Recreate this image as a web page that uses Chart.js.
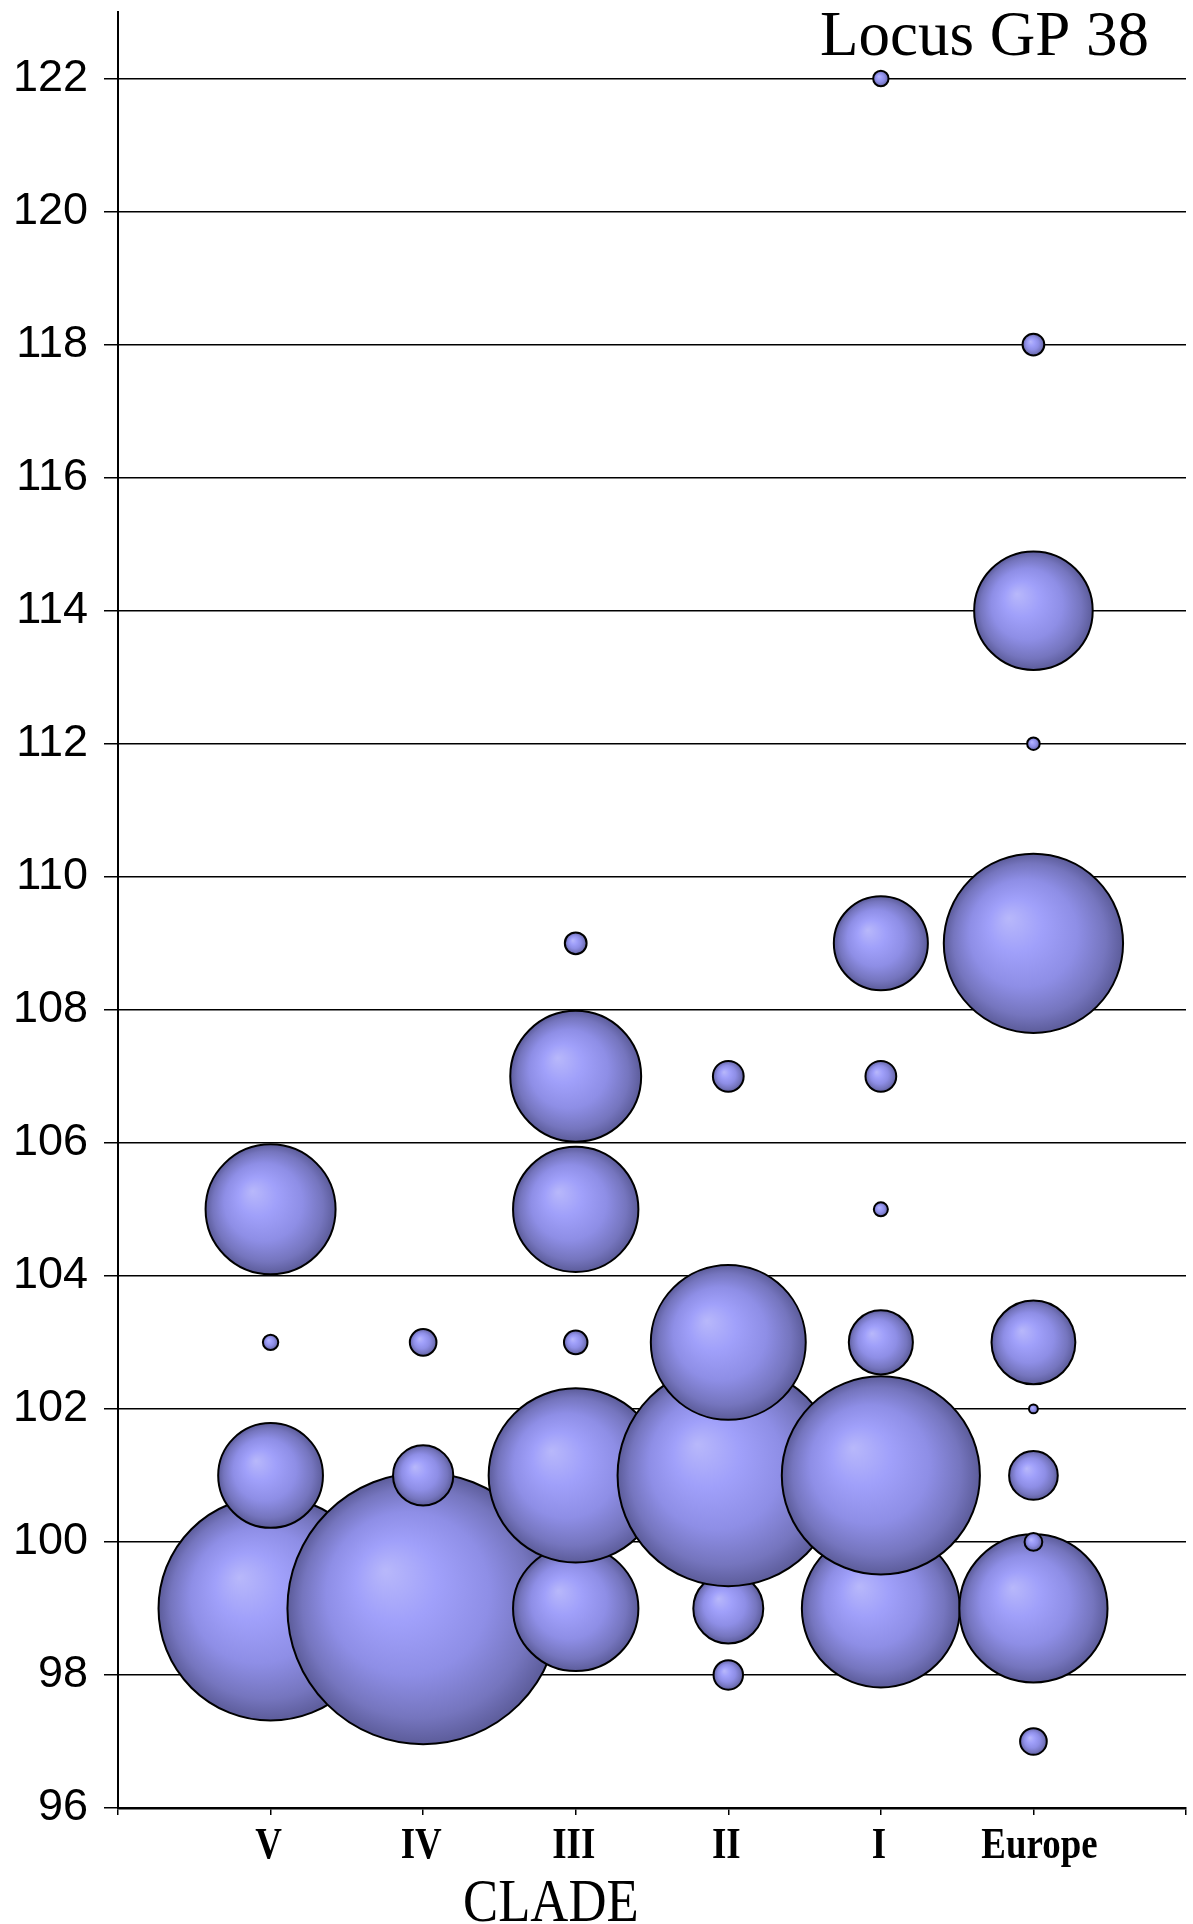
<!DOCTYPE html>
<html>
<head>
<meta charset="utf-8">
<script src="https://cdn.jsdelivr.net/npm/chart.js@4"></script>
<style>
  html, body { margin: 0; padding: 0; background: #fff; }
  #wrap { width: 1193px; height: 1924px; position: relative; }
</style>
</head>
<body>
<div id="wrap"><canvas id="chart"></canvas></div>
<script>
// clades on the x axis (positions 1..6)
const clades = ["V", "IV", "III", "II", "I", "Europe"];

// allele sizes found in each clade
const alleleSizes = [
  [99, 101, 103, 105],
  [99, 101, 103],
  [99, 101, 103, 105, 107, 109],
  [98, 99, 101, 103, 107],
  [99, 101, 103, 105, 107, 109, 122],
  [97, 99, 100, 101, 102, 103, 109, 112, 114, 118]
];

// allele frequency within each clade (bubble area)
const alleleFreqs = [
  [0.636, 0.139, 0.003, 0.214],
  [0.933, 0.046, 0.009],
  [0.199, 0.384, 0.007, 0.199, 0.217, 0.006],
  [0.011, 0.062, 0.621, 0.304, 0.012],
  [0.316, 0.497, 0.052, 0.0025, 0.012, 0.112, 0.003],
  [0.009, 0.278, 0.004, 0.030, 0.001, 0.089, 0.407, 0.002, 0.178, 0.006]
];

const yMin = 96, yMax = 123, yStep = 2;
const chartTitle = "Locus GP 38";
const xTitle = "CLADE";

// radius in px of a bubble with frequency 1
const FULL_R = 140.5;
const radiusOf = (f) => FULL_R * Math.sqrt(f);

// one point per allele, drawn smallest allele first, then left to right
const points = [];
clades.forEach((c, i) => {
  alleleSizes[i].forEach((size, j) => {
    points.push({ x: i + 1, y: size, f: alleleFreqs[i][j] });
  });
});
points.sort((a, b) => (a.y - b.y) || (a.x - b.x));

const serif = "'Liberation Serif', 'Times New Roman', serif";
const sans = "'Liberation Sans', Arial, sans-serif";

function bubbleFill(ctx) {
  const raw = ctx.raw;
  const chart = ctx.chart;
  if (!raw || !chart.scales.x || !chart.scales.y) return "#9999ee";
  const cx = chart.scales.x.getPixelForValue(raw.x);
  const cy = chart.scales.y.getPixelForValue(raw.y);
  const r = radiusOf(raw.f);
  if (!isFinite(cx) || !isFinite(cy) || !isFinite(r) || r <= 0) return "#9999ee";
  const g = chart.ctx.createRadialGradient(cx - r * 0.28, cy - r * 0.28, 0, cx, cy, r);
  g.addColorStop(0, "#b8b8fa");
  g.addColorStop(0.3, "#a0a0fa");
  g.addColorStop(0.6, "#8e8ee6");
  g.addColorStop(0.85, "#7575be");
  g.addColorStop(1, "#5c5c9a");
  return g;
}

// text that the reference draws condensed, plus the corner title
const textPlugin = {
  id: "texts",
  afterDraw(chart) {
    const { ctx, chartArea, scales } = chart;
    ctx.save();
    ctx.fillStyle = "#000";
    ctx.textBaseline = "alphabetic";

    ctx.font = "bold 45px " + serif;
    ctx.textAlign = "center";
    clades.forEach((c, i) => {
      const x = scales.x.getPixelForValue(i + 1);
      ctx.save();
      ctx.translate(x + (c.length > 3 ? 6 : -2), chartArea.bottom + 50);
      ctx.scale(0.82, 1);
      ctx.fillText(c, 0, 0);
      ctx.restore();
    });

    ctx.font = "62px " + serif;
    ctx.textAlign = "left";
    ctx.save();
    ctx.translate(chartArea.left + 345, chartArea.bottom + 113);
    ctx.scale(0.85, 1);
    ctx.fillText(xTitle, 0, 0);
    ctx.restore();

    ctx.font = "63px " + serif;
    ctx.textAlign = "left";
    ctx.fillText(chartTitle, 820, 55);
    ctx.restore();
  }
};

new Chart(document.getElementById("chart"), {
  type: "bubble",
  data: {
    datasets: [{
      data: points,
      radius: (ctx) => ctx.raw ? radiusOf(ctx.raw.f) : 3,
      backgroundColor: bubbleFill,
      borderColor: "#000",
      borderWidth: 2
    }]
  },
  options: {
    responsive: true,
    maintainAspectRatio: false,
    animation: false,
    events: [],
    layout: { autoPadding: false, padding: { top: 12, right: 7, left: 0, bottom: 0 } },
    plugins: {
      legend: { display: false },
      tooltip: { enabled: false }
    },
    scales: {
      x: {
        type: "linear",
        min: 0,
        max: clades.length + 1,
        afterFit: (s) => { s.height = 116; s.paddingLeft = 0; s.paddingRight = 0; },
        ticks: { stepSize: 1, display: false },
        grid: { drawOnChartArea: false, drawTicks: true, tickLength: 7, color: "#000", lineWidth: 1.5 },
        border: { color: "#000", width: 2.5 }
      },
      y: {
        type: "linear",
        min: yMin,
        max: yMax,
        bounds: "data",
        afterFit: (s) => { s.width = 118; s.paddingTop = 0; s.paddingBottom = 0; },
        afterBuildTicks: (s) => { s.ticks = s.ticks.filter((t) => t.value % yStep === 0 && t.value < yMax); },
        ticks: {
          stepSize: yStep,
          padding: 16,
          color: "#000",
          font: { family: sans, size: 45 }
        },
        grid: { color: "#000", lineWidth: 1.5, tickLength: 14 },
        border: { color: "#000", width: 2 }
      }
    }
  },
  plugins: [textPlugin]
});
</script>
</body>
</html>
